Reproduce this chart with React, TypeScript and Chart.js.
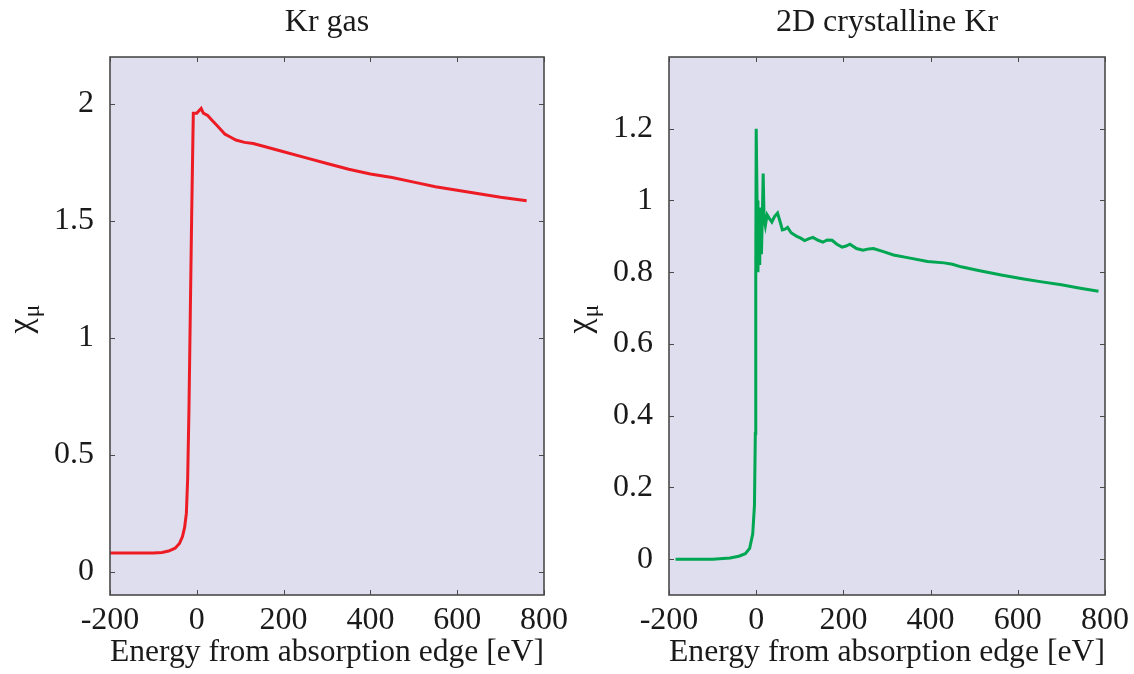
import React, { useEffect, useRef } from "react";
import { Chart, registerables } from "chart.js";

Chart.register(...registerables);

// ---------- data ----------
const xTicks = [-200, 0, 200, 400, 600, 800];
const gasYTicks = [0, 0.5, 1, 1.5, 2];
const crystYTicks = [0, 0.2, 0.4, 0.6, 0.8, 1, 1.2];

const gasTitle = "Kr gas";
const crystTitle = "2D crystalline Kr";
const xLabel = "Energy from absorption edge [eV]";

const gasEnergy = [
  -200, -150, -100, -80, -65, -50, -40, -33, -28, -24, -21, -18, -15, -12, -9,
  -8, 0, 5, 10, 15, 25, 35, 45, 55, 65, 75, 90, 110, 130, 160, 200, 250, 300,
  350, 400, 450, 500, 550, 600, 650, 700, 760,
];
const gasChi = [
  0.08, 0.08, 0.08, 0.082, 0.088, 0.1, 0.12, 0.15, 0.19, 0.25, 0.4, 0.7, 1.1,
  1.5, 1.85, 1.96, 1.96, 1.97, 1.98, 1.96, 1.95, 1.93, 1.91, 1.89, 1.87, 1.86,
  1.845, 1.835, 1.83, 1.815, 1.795, 1.77, 1.745, 1.72, 1.7, 1.685, 1.665, 1.645,
  1.63, 1.615, 1.6, 1.585,
];

const crystEnergy = [
  -185, -150, -100, -60, -40, -25, -15, -8, -4, -2, -1, 0, 2, 4, 6, 8, 10, 12,
  14, 16, 18, 21, 25, 30, 36, 42, 49, 55, 60, 66, 72, 80, 93, 102, 111, 120,
  130, 142, 153, 163, 174, 185, 197, 206, 215, 230, 245, 258, 269, 290, 315,
  350, 393, 431, 450, 470, 510, 562, 610, 655, 700, 740, 785,
];
const crystChi = [
  0.0, 0.0, 0.0, 0.003, 0.008, 0.015, 0.03, 0.07, 0.15, 0.35, 0.8, 1.2, 1.0,
  0.8, 0.95, 0.82, 0.98, 0.85, 0.95, 1.075, 0.95, 0.93, 0.96, 0.95, 0.94, 0.955,
  0.965, 0.94, 0.918, 0.92, 0.925, 0.91, 0.9, 0.895, 0.888, 0.893, 0.897, 0.889,
  0.884, 0.89, 0.889, 0.878, 0.87, 0.873, 0.878, 0.866, 0.861, 0.865, 0.866,
  0.858, 0.848, 0.84, 0.83, 0.826, 0.822, 0.815, 0.805, 0.792, 0.782, 0.773,
  0.765, 0.756, 0.747,
];

// ---------- styles ----------
const FONT = "'Liberation Serif', 'Times New Roman', serif";
const FS = 32;
const TEXT = "#1a1a1a";
const BG = "#dedeee";
const FRAME = "#4a4a4a";

type PanelCfg = {
  title: string;
  energy: number[];
  chi: number[];
  yTicks: number[];
  yMin: number;
  yMax: number;
  color: string;
  canvasLeft: number;
  canvasWidth: number;
  yWidth: number;
  padRight: number;
};

const panels: PanelCfg[] = [
  {
    title: gasTitle,
    energy: gasEnergy,
    chi: gasChi,
    yTicks: gasYTicks,
    yMin: -0.1,
    yMax: 2.2,
    color: "#ed1c24",
    canvasLeft: 0,
    canvasWidth: 600,
    yWidth: 110,
    padRight: 56,
  },
  {
    title: crystTitle,
    energy: crystEnergy,
    chi: crystChi,
    yTicks: crystYTicks,
    yMin: -0.1,
    yMax: 1.4,
    color: "#00a651",
    canvasLeft: 560,
    canvasWidth: 574,
    yWidth: 109,
    padRight: 29,
  },
];

function makePlugin(cfg: PanelCfg) {
  return {
    id: "panelDecor",
    beforeDraw(chart: any) {
      const { ctx, chartArea } = chart;
      const { left, top, right, bottom } = chartArea;
      ctx.save();
      ctx.fillStyle = BG;
      ctx.fillRect(left, top, right - left, bottom - top);
      ctx.restore();
    },
    afterDraw(chart: any) {
      const { ctx, chartArea, scales } = chart;
      const { left, top, right, bottom } = chartArea;
      ctx.save();
      // inward ticks
      ctx.strokeStyle = FRAME;
      ctx.lineWidth = 1;
      const tl = 5;
      ctx.beginPath();
      for (const v of xTicks) {
        const px = Math.round(scales.x.getPixelForValue(v)) + 0.5;
        ctx.moveTo(px, bottom);
        ctx.lineTo(px, bottom - tl);
        ctx.moveTo(px, top);
        ctx.lineTo(px, top + tl);
      }
      for (const v of cfg.yTicks) {
        const py = Math.round(scales.y.getPixelForValue(v)) + 0.5;
        ctx.moveTo(left, py);
        ctx.lineTo(left + tl, py);
        ctx.moveTo(right, py);
        ctx.lineTo(right - tl, py);
      }
      ctx.stroke();
      // frame
      ctx.lineWidth = 1.6;
      ctx.strokeRect(left, top, right - left, bottom - top);
      // title
      ctx.fillStyle = TEXT;
      ctx.font = `${FS}px ${FONT}`;
      ctx.textAlign = "center";
      ctx.textBaseline = "middle";
      ctx.fillText(cfg.title, (left + right) / 2, 23);
      // y label chi_mu
      const cx = left - 83;
      const cy = (top + bottom) / 2;
      ctx.translate(cx, cy);
      ctx.rotate(-Math.PI / 2);
      ctx.textAlign = "left";
      ctx.textBaseline = "alphabetic";
      ctx.font = `${FS + 2}px ${FONT}`;
      const w = ctx.measureText("χ").width;
      ctx.fillText("χ", -w / 2, 4);
      ctx.font = `${FS - 8}px ${FONT}`;
      ctx.fillText("μ", w / 2 + 1, 12);
      ctx.restore();
    },
  };
}

function Panel({ cfg }: { cfg: PanelCfg }) {
  const ref = useRef<HTMLCanvasElement | null>(null);
  useEffect(() => {
    if (!ref.current) return;
    const font = { family: FONT, size: FS };
    const chart = new Chart(ref.current, {
      type: "line",
      data: {
        datasets: [
          {
            data: cfg.energy.map((x, i) => ({ x, y: cfg.chi[i] })),
            borderColor: cfg.color,
            borderWidth: 3,
            pointRadius: 0,
            tension: 0,
            fill: false,
          },
        ],
      },
      options: {
        responsive: false,
        animation: false,
        devicePixelRatio: 1,
        layout: { padding: { top: 57, right: cfg.padRight, left: 0, bottom: 0 } },
        plugins: {
          legend: { display: false },
          tooltip: { enabled: false },
          title: { display: false },
        },
        scales: {
          x: {
            type: "linear",
            min: -200,
            max: 800,
            afterBuildTicks: (s: any) => {
              s.ticks = xTicks.map((v) => ({ value: v }));
            },
            afterFit: (s: any) => {
              s.height = 79;
            },
            grid: { display: false },
            border: { display: false },
            ticks: {
              font,
              color: TEXT,
              padding: -2,
              maxRotation: 0,
              autoSkip: false,
              callback: (v: any) => String(v),
            },
            title: {
              display: true,
              text: xLabel,
              font,
              color: TEXT,
              padding: { top: 0, bottom: 2 },
            },
          },
          y: {
            type: "linear",
            min: cfg.yMin,
            max: cfg.yMax,
            afterBuildTicks: (s: any) => {
              s.ticks = cfg.yTicks.map((v) => ({ value: v }));
            },
            afterFit: (s: any) => {
              s.width = cfg.yWidth;
            },
            grid: { display: false },
            border: { display: false },
            ticks: {
              font,
              color: TEXT,
              padding: 8,
              autoSkip: false,
              callback: (v: any) => String(v),
            },
          },
        },
      } as any,
      plugins: [makePlugin(cfg)],
    });
    return () => chart.destroy();
  }, [cfg]);
  return (
    <canvas
      ref={ref}
      width={cfg.canvasWidth}
      height={674}
      style={{
        position: "absolute",
        left: cfg.canvasLeft,
        top: 0,
        width: cfg.canvasWidth,
        height: 674,
      }}
    />
  );
}

export default function App() {
  return (
    <div
      style={{
        position: "absolute",
        left: 0,
        top: 0,
        width: 1134,
        height: 674,
        background: "#ffffff",
        overflow: "hidden",
      }}
    >
      {panels.map((p, i) => (
        <Panel key={i} cfg={p} />
      ))}
    </div>
  );
}
